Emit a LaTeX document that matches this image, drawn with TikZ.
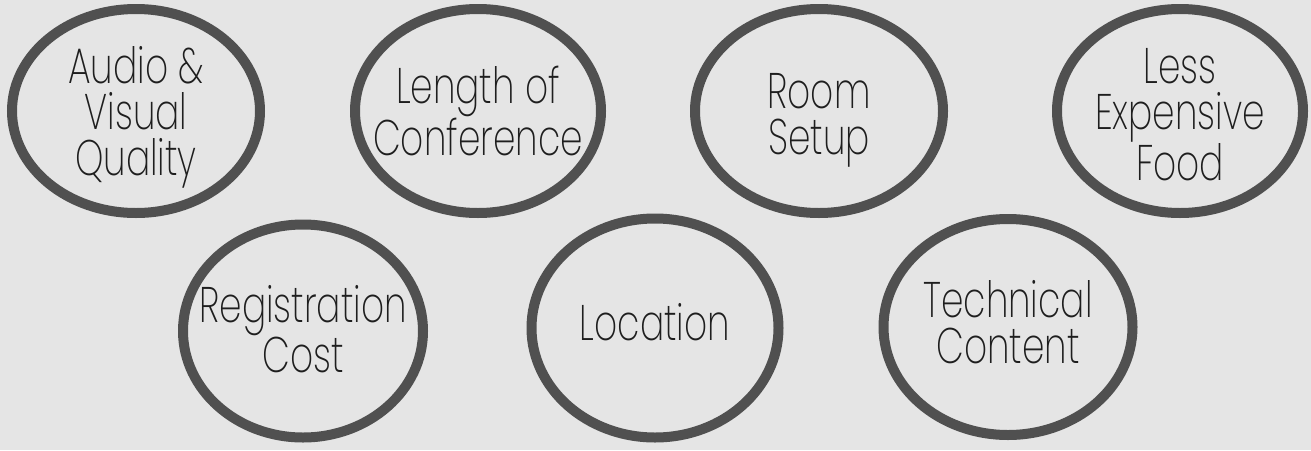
\documentclass[tikz,border=0pt]{standalone}
\usepackage{fontspec}
\setmainfont{Poppins ExtraLight}[FakeStretch=0.72]
\usetikzlibrary{shapes.geometric}
\definecolor{paper}{HTML}{E5E5E5}
\definecolor{ringgray}{HTML}{505050}
\definecolor{inkgray}{HTML}{1E1E1E}

\begin{document}
\begin{tikzpicture}[
  x=1pt, y=-1pt,
  ring/.style={ellipse, draw=ringgray, line width=10pt, inner sep=0pt},
  lbl/.style={align=center, text=inkgray, inner sep=0pt, font=\fontsize{50}{46}\selectfont},
]
% page
\fill[paper] (0,0) rectangle (1311,450);
\useasboundingbox (0,0) rectangle (1311,450);

% top row
\node[ring, minimum width=248pt, minimum height=204pt] (audio) at (136,111) {};
\node[ring, minimum width=246pt, minimum height=204pt] (length) at (478,111) {};
\node[ring, minimum width=248pt, minimum height=204pt] (room) at (819,111) {};
\node[ring, minimum width=246pt, minimum height=204pt] (food) at (1180,111) {};

% bottom row
\node[ring, minimum width=240pt, minimum height=213pt] (reg) at (303,331) {};
\node[ring, minimum width=247pt, minimum height=219pt] (loc) at (655,328) {};
\node[ring, minimum width=249pt, minimum height=216pt] (tech) at (1008,327) {};

% labels
\node[lbl, yshift=-6pt] (audio-t) at (audio) {Audio \&\\Visual\\Quality};
\node[lbl] (length-t) at (length) {Length of\\Conference};
\node[lbl, yshift=-9pt] (room-t) at (room) {Room\\Setup};
\node[lbl, yshift=-4pt] (food-t) at (food) {Less\\Expensive\\Food};
\node[lbl, yshift=2pt] (reg-t) at (reg) {Registration\\Cost};
\node[lbl, yshift=6pt] (loc-t) at (loc) {Location};
\node[lbl, yshift=5pt] (tech-t) at (tech) {Technical\\Content};
\end{tikzpicture}
\end{document}
